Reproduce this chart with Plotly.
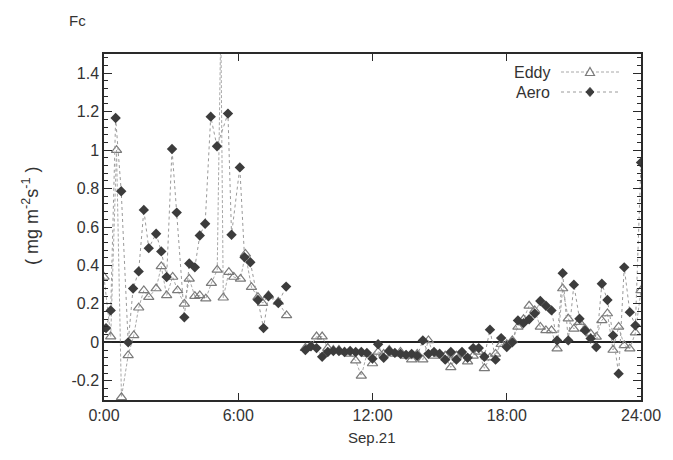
import plotly.graph_objects as go

# ---- data (hours of Sep.21, flux in mg m-2 s-1) ----
aero_t_am = [0.09, 0.30, 0.52, 0.77, 1.08, 1.30, 1.55, 1.78, 2.00, 2.33, 2.56, 2.80,
             3.04, 3.25, 3.59, 3.81, 4.06, 4.28, 4.52, 4.77, 5.05, 5.54, 5.70, 6.07,
             6.28, 6.54, 6.88, 7.13, 7.35, 7.79, 8.14]
aero_v_am = [0.074, 0.166, 1.167, 0.786, 0.0, 0.28, 0.369, 0.689, 0.49, 0.565, 0.473, 0.34,
             1.006, 0.675, 0.13, 0.41, 0.39, 0.556, 0.617, 1.174, 1.02, 1.19, 0.56, 0.91,
             0.443, 0.417, 0.22, 0.074, 0.24, 0.204, 0.29]

eddy_t_am = [0.0, 0.30, 0.56, 0.78, 1.08, 1.33, 1.55, 1.78, 2.00, 2.33, 2.56, 2.80,
             3.07, 3.29, 3.59, 3.81, 4.06, 4.28, 4.55, 4.80, 5.06, 5.22, 5.33, 5.58,
             5.80, 6.10, 6.32, 6.59, 6.88, 7.09, 7.35, 7.79, 8.16]
eddy_v_am = [0.34, 0.03, 1.0, -0.286, -0.068, 0.036, 0.18, 0.27, 0.235, 0.28, 0.395, 0.244,
             0.34, 0.27, 0.20, 0.33, 0.24, 0.244, 0.227, 0.308, 0.377, 1.65, 0.232, 0.365,
             0.34, 0.33, 0.46, 0.287, 0.235, 0.204, 0.244, 0.21, 0.14]

# quarter-hour record from 9:00 to 24:00
pm_t = [9.0 + 0.25 * i for i in range(61)]
aero_v_pm = [-0.04, -0.02, -0.03, -0.075, -0.05, -0.045, -0.045, -0.05, -0.045, -0.05,
             -0.05, -0.055, -0.085, -0.01, -0.08, -0.045, -0.055, -0.06, -0.065, -0.06,
             -0.07, 0.01, -0.06, -0.05, -0.06, -0.09, -0.05, -0.09, -0.05, -0.08,
             -0.03, -0.03, -0.075, 0.066, -0.09, 0.022, -0.024, 0.0, 0.114, 0.10,
             0.12, 0.15, 0.215, 0.19, 0.166, 0.01, 0.36, 0.01, 0.30, 0.123,
             0.062, 0.02, -0.024, 0.305, 0.22, 0.036, -0.163, 0.39, 0.157, 0.088,
             0.935]
eddy_v_pm = [-0.03, -0.02, 0.03, 0.03, -0.03, -0.04, -0.04, -0.05, -0.06, -0.095,
             -0.175, -0.06, -0.11, -0.05, -0.06, -0.04, -0.06, -0.05, -0.07, -0.09,
             -0.06, -0.09, 0.01, -0.07, -0.06, -0.07, -0.13, -0.07, -0.06, -0.10,
             -0.07, -0.05, -0.135, -0.08, -0.06, -0.01, -0.01, 0.01, 0.08, 0.12,
             0.19, 0.166, 0.08, 0.062, 0.062, -0.033, 0.28, 0.123, 0.07, 0.105,
             0.07, 0.045, 0.028, 0.114, 0.15, -0.04, 0.08, -0.016, -0.033, 0.05,
             0.27]

series_names = ["Eddy", "Aero"]
x_tickvals = [0, 6, 12, 18, 24]
x_ticktext = ["0:00", "6:00", "12:00", "18:00", "24:00"]
y_tickvals = [-0.2, 0, 0.2, 0.4, 0.6, 0.8, 1.0, 1.2, 1.4]
y_ticktext = ["-0.2", "0", "0.2", "0.4", "0.6", "0.8", "1", "1.2", "1.4"]

# a data gap between the morning and afternoon records
eddy_t = eddy_t_am + [None] + pm_t
eddy_v = eddy_v_am + [None] + eddy_v_pm
aero_t = aero_t_am + [None] + pm_t
aero_v = aero_v_am + [None] + aero_v_pm

FONT = "Liberation Sans, Arial, sans-serif"
TXT = "#333333"
EDDY_LINE = dict(color="#a8a8a8", width=1, dash="3px,2px")
AERO_LINE = dict(color="#9a9a9a", width=1, dash="dot")
EDDY_MK = "#7a7a7a"
AERO_MK = "#3c3c3c"

fig = go.Figure()
fig.add_trace(go.Scatter(
    x=eddy_t, y=eddy_v, mode="lines+markers", name=series_names[0],
    line=EDDY_LINE,
    marker=dict(symbol="triangle-up-open", size=9, color=EDDY_MK,
                line=dict(width=1.2, color=EDDY_MK)),
    connectgaps=False, cliponaxis=True, showlegend=False))
fig.add_trace(go.Scatter(
    x=aero_t, y=aero_v, mode="lines+markers", name=series_names[1],
    line=AERO_LINE,
    marker=dict(symbol="diamond", size=8, color=AERO_MK),
    connectgaps=False, cliponaxis=True, showlegend=False))

axis_common = dict(showline=True, linecolor="#2a2a2a", linewidth=1.5, mirror="ticks",
                   ticks="inside", tickcolor="#2a2a2a", showgrid=False,
                   tickfont=dict(family=FONT, size=16, color=TXT))

fig.update_xaxes(range=[0, 24], tickvals=x_tickvals, ticktext=x_ticktext,
                 ticklen=7, zeroline=False, **axis_common)
fig.update_yaxes(range=[-0.3, 1.5], tickvals=y_tickvals, ticktext=y_ticktext,
                 ticklen=8, zeroline=True, zerolinecolor="#222222", zerolinewidth=1.5,
                 minor=dict(dtick=0.04, ticks="inside", ticklen=4, tickcolor="#2a2a2a",
                            showgrid=False),
                 **axis_common)

# ---- legend key drawn as layout shapes (text left, key right as in the original) ----
W, H = 665, 452
ML, MR, MT, MB = 96, 32, 46, 60
PW, PH = W - ML - MR, H - MT - MB


def px_x(px):  # figure pixel -> paper x
    return (px - ML) / PW


def px_y(py):
    return 1 - (py - MT) / PH


key_rows = [64, 84]          # row centres (figure px)
key_x0, key_x1, key_xc = 553, 612, 582
text_right = 544
shapes = []
annotations = []
for name, row, line in zip(series_names, key_rows, [EDDY_LINE, AERO_LINE]):
    yy = px_y(row)
    shapes.append(dict(type="line", xref="paper", yref="paper",
                       x0=px_x(key_x0), x1=px_x(key_x1), y0=yy, y1=yy, line=line))
    annotations.append(dict(text=name, xref="paper", yref="paper", x=px_x(text_right),
                            y=yy, xanchor="right", yanchor="middle", showarrow=False,
                            font=dict(family=FONT, size=16, color=TXT)))

# open triangle for Eddy
r0 = key_rows[0]
tri = "M {:.4f},{:.4f} L {:.4f},{:.4f} L {:.4f},{:.4f} Z".format(
    px_x(key_xc - 4.5), px_y(r0 + 3.5), px_x(key_xc + 4.5), px_y(r0 + 3.5),
    px_x(key_xc), px_y(r0 - 4.5))
shapes.append(dict(type="path", xref="paper", yref="paper", path=tri,
                   fillcolor="white", line=dict(color=EDDY_MK, width=1.2)))
# filled diamond for Aero
r1 = key_rows[1]
dia = "M {:.4f},{:.4f} L {:.4f},{:.4f} L {:.4f},{:.4f} L {:.4f},{:.4f} Z".format(
    px_x(key_xc), px_y(r1 - 4.5), px_x(key_xc + 4), px_y(r1),
    px_x(key_xc), px_y(r1 + 4.5), px_x(key_xc - 4), px_y(r1))
shapes.append(dict(type="path", xref="paper", yref="paper", path=dia,
                   fillcolor=AERO_MK, line=dict(color=AERO_MK, width=1)))

annotations += [
    dict(text="Fc", xref="paper", yref="paper", x=px_x(69), y=px_y(12),
         xanchor="center", yanchor="middle", showarrow=False,
         font=dict(family=FONT, size=15, color=TXT)),
    dict(text="( mg m<sup>-2</sup>s<sup>-1</sup> )", xref="paper", yref="paper",
         x=px_x(22), y=px_y(208), textangle=-90, xanchor="center", yanchor="middle",
         showarrow=False, font=dict(family=FONT, size=18, color=TXT)),
    dict(text="Sep.21", xref="paper", yref="paper", x=px_x(364), y=px_y(429),
         xanchor="center", yanchor="middle", showarrow=False,
         font=dict(family=FONT, size=15, color=TXT)),
]

# page body keeps an 8px browser margin, so the figure is sized to sit inside it
fig.update_layout(
    width=W, height=H,
    margin=dict(l=ML, r=MR, t=MT, b=MB),
    paper_bgcolor="white", plot_bgcolor="white",
    font=dict(family=FONT, size=16, color=TXT),
    showlegend=False,
    shapes=shapes,
    annotations=annotations,
)

fig.write_html("out.html")
